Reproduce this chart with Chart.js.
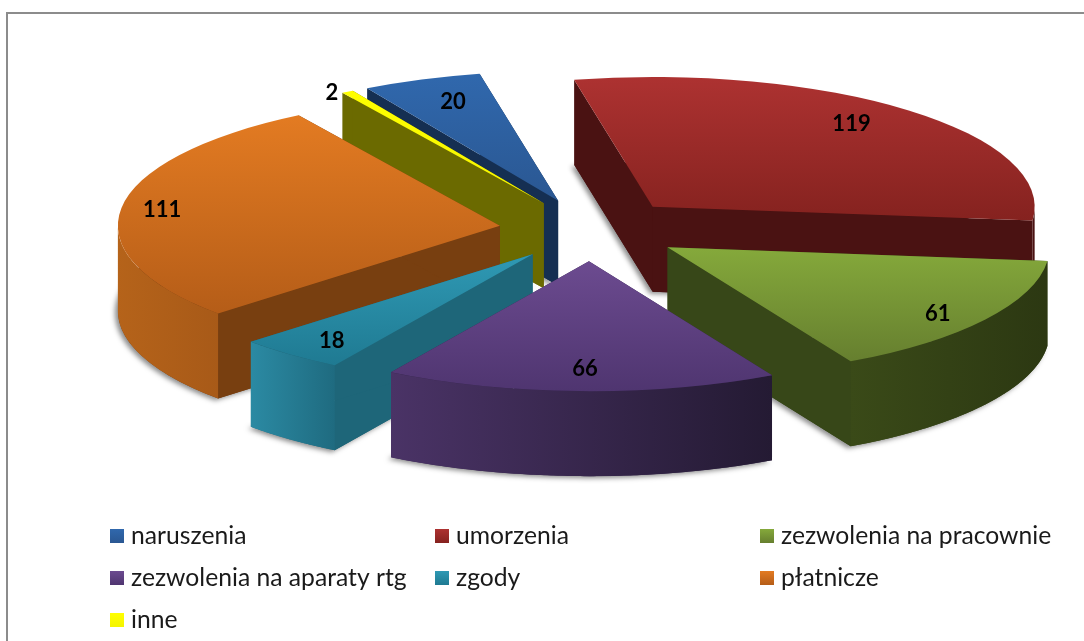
<!DOCTYPE html>
<html lang="pl">
<head>
  <meta charset="UTF-8" />
  <title>Wykres kołowy</title>
  <script src="https://cdn.jsdelivr.net/npm/chart.js"></script>
  <style>
    html, body { margin: 0; padding: 0; background: #fff; overflow: hidden; }
    #frame {
      position: absolute; left: 6px; top: 12px; width: 1200px; height: 800px;
      border: 2px solid #8c8c8c;
    }
    #chart { position: absolute; left: 0; top: 0; }
  </style>
</head>
<body>
  <div id="frame"></div>
  <canvas id="chart" width="1084" height="641"></canvas>

  <script>
    const categories = ["naruszenia", "umorzenia", "zezwolenia na pracownie", "zezwolenia na aparaty rtg", "zgody", "płatnicze", "inne"];
    const values = [20, 119, 61, 66, 18, 111, 2];

    // top face gradient, top to bottom
    const topLight = ["#3068ad", "#ad3231", "#85a93b", "#6c4b90", "#2f99b4", "#e37b22", "#ffff00"];
    const topDark = ["#2a5792", "#85221f", "#667f2f", "#4f3570", "#1f7a92", "#b55d18", "#f4f400"];
    // outer wall gradient, left to right
    const wallLeft = ["#1a3a66", "#4a1212", "#3a4a18", "#4a3366", "#2b8aa3", "#b5631a", "#6b6a00"];
    const wallRight = ["#15305a", "#4a1212", "#2c3812", "#241a33", "#1f6b80", "#a85a18", "#6b6a00"];
    // flat cut faces
    const cutColors = ["#152f52", "#4a1212", "#374718", "#33234a", "#1e6679", "#783f10", "#6b6a00"];

    // value label shift from its default spot
    const labelShiftX = [4, -6, 16, 3, -7, -35, -55];
    const labelShiftY = [-2, -6, 9, 4, 6, -2, -21];

    const centerX = 591, centerY = 230;
    const radius = 382, squash = 0.34, depth = 85, explode = 92;
    const labelFraction = 0.8;

    const legendCols = [110, 435, 760];
    const legendRows = [536, 578, 620];

    function paintArc(ctx, el, fill) {
      const saved = el.options;
      el.options = { backgroundColor: fill, borderWidth: 0, offset: 0, spacing: 0, borderRadius: 0, circular: true };
      el.draw(ctx);
      el.options = saved;
    }

    function fillPolygon(ctx, pts, fill) {
      ctx.beginPath();
      pts.forEach((p, k) => (k ? ctx.lineTo(p.x, p.y) : ctx.moveTo(p.x, p.y)));
      ctx.closePath();
      ctx.fillStyle = fill;
      ctx.fill();
    }

    const pie3d = {
      id: "pie3d",
      beforeDatasetsDraw(chart) {
        const ctx = chart.ctx;
        const arcs = chart.getDatasetMeta(0).data;
        const sx = radius / arcs[0].outerRadius;
        const sy = sx * squash;
        const midAngle = el => (el.startAngle + el.endAngle) / 2;

        // place one slice in the flattened view
        const place = (el, dy) => {
          const m = midAngle(el);
          ctx.translate(centerX, centerY + dy);
          ctx.scale(sx, sy);
          ctx.translate(-el.x + Math.cos(m) * explode / sx, -el.y + Math.sin(m) * explode / sx);
        };

        // screen position of a point of a slice, r as a share of the radius
        const project = (el, angle, r, dy) => {
          const m = midAngle(el);
          return {
            x: centerX + Math.cos(m) * explode + Math.cos(angle) * r * radius,
            y: centerY + dy + (Math.sin(m) * explode + Math.sin(angle) * r * radius) * squash
          };
        };

        const order = arcs.map((el, i) => i).sort((a, b) => Math.sin(midAngle(arcs[a])) - Math.sin(midAngle(arcs[b])));

        order.forEach(i => {
          const el = arcs[i];
          const tipTop = project(el, 0, 0, 0), tipLow = project(el, 0, 0, depth);

          // soft shadow under the block
          ctx.save();
          ctx.shadowColor = "rgba(0,0,0,0.45)";
          ctx.shadowBlur = 5;
          ctx.shadowOffsetX = -3;
          ctx.shadowOffsetY = 2;
          place(el, depth);
          paintArc(ctx, el, cutColors[i]);
          ctx.restore();

          // both cut faces
          [el.startAngle, el.endAngle].forEach(a => {
            fillPolygon(ctx, [tipTop, project(el, a, 1, 0), project(el, a, 1, depth), tipLow], cutColors[i]);
          });

          // outer wall, only the part that faces the viewer
          const rim = [];
          for (let k = 0; k <= 120; k++) {
            const a = el.startAngle + (el.endAngle - el.startAngle) * k / 120;
            if (Math.sin(a) >= 0) rim.push(a);
          }
          if (rim.length > 1) {
            const upper = rim.map(a => project(el, a, 1, 0));
            const lower = rim.map(a => project(el, a, 1, depth)).reverse();
            const xs = upper.map(p => p.x);
            const wall = ctx.createLinearGradient(Math.min(...xs), 0, Math.max(...xs), 0);
            wall.addColorStop(0, wallLeft[i]);
            wall.addColorStop(1, wallRight[i]);
            fillPolygon(ctx, upper.concat(lower), wall);
          }

          // top face, gradient spans the slice height
          const r = el.outerRadius;
          const ys = [0, Math.sin(el.startAngle) * r, Math.sin(el.endAngle) * r];
          for (let a = -Math.PI * 1.5; a <= Math.PI * 3; a += Math.PI) {
            if (a > el.startAngle && a < el.endAngle) ys.push(Math.sin(a) * r);
          }
          const top = ctx.createLinearGradient(0, el.y + Math.min(...ys), 0, el.y + Math.max(...ys));
          top.addColorStop(0, topLight[i]);
          top.addColorStop(1, topDark[i]);
          ctx.save();
          place(el, 0);
          paintArc(ctx, el, top);
          ctx.restore();
        });

        // value labels
        ctx.save();
        ctx.fillStyle = "#000";
        ctx.textAlign = "center";
        ctx.textBaseline = "middle";
        ctx.font = "bold 22px Lato";
        arcs.forEach((el, i) => {
          const m = midAngle(el);
          const d = explode + radius * labelFraction;
          const x = centerX + Math.cos(m) * d + labelShiftX[i];
          const y = centerY + Math.sin(m) * d * squash + labelShiftY[i];
          ctx.fillText(String(values[i]), x, y);
        });
        ctx.restore();

        // legend, three columns
        ctx.save();
        ctx.font = "24.7px Lato";
        ctx.textAlign = "left";
        ctx.textBaseline = "middle";
        categories.forEach((name, i) => {
          const x = legendCols[i % 3], y = legendRows[Math.floor(i / 3)];
          const g = ctx.createLinearGradient(0, y - 7, 0, y + 7);
          g.addColorStop(0, topLight[i]);
          g.addColorStop(1, topDark[i]);
          ctx.fillStyle = g;
          ctx.fillRect(x, y - 7, 14, 14);
          ctx.fillStyle = "#1a1a1a";
          ctx.fillText(name, x + 21, y);
        });
        ctx.restore();

        return false;
      }
    };

    new Chart(document.getElementById("chart"), {
      type: "pie",
      data: {
        labels: categories,
        datasets: [{ data: values, backgroundColor: topLight, borderWidth: 0 }]
      },
      options: {
        responsive: false,
        animation: false,
        rotation: -30,
        plugins: {
          legend: { display: false },
          tooltip: { enabled: false }
        }
      },
      plugins: [pie3d]
    });
  </script>
</body>
</html>
